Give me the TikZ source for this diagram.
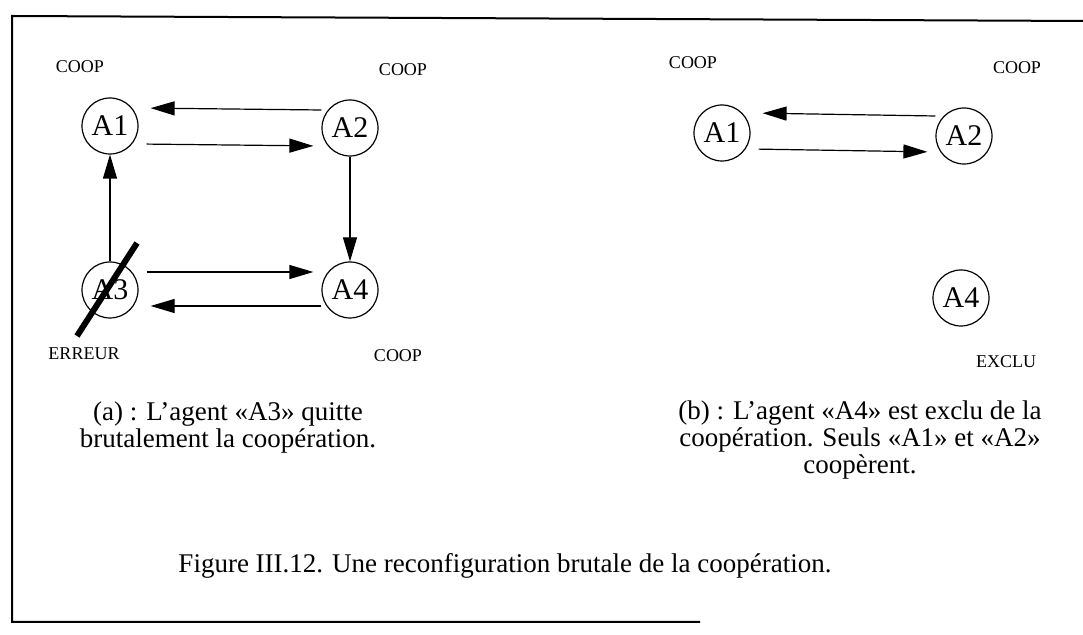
\documentclass[tikz,border=0pt]{standalone}
\usepackage{fontspec}
\setmainfont{Liberation Serif}
\usetikzlibrary{arrows.meta}

\begin{document}
\begin{tikzpicture}[x=0.5pt, y=-0.5pt,
  agent/.style={draw, circle, minimum size=28pt, inner sep=0pt, line width=0.6pt, font=\fontsize{15}{15}\selectfont},
  etat/.style={font=\fontsize{9}{9}\selectfont},
  legende/.style={align=center, font=\fontsize{13.5}{13.5}\selectfont},
  fl/.style={-{Triangle[length=12pt,width=7pt]}, line width=0.6pt},
  barre/.style={line width=3pt}]
  \useasboundingbox (0,0) rectangle (1083,635);

  % Cadre
  \draw[line width=1pt] (1083,21) -- (12,16) -- (12,622) -- (700,622);

  % (a) Agents
  \node[agent] (A1) at (110,126) {A1};
  \node[agent] (A2) at (350,128) {A2};
  \node[agent] (A3) at (110,290) {A3};
  \node[agent] (A4) at (350,290) {A4};

  % (a) Etats
  \node[etat] (c1) at (80,67) {COOP};
  \node[etat] (c2) at (403,70) {COOP};
  \node[etat] (err) at (84,354) {ERREUR};
  \node[etat] (c4) at (398,356) {COOP};

  % (a) Echanges
  \draw[fl, shorten >=6pt] ([yshift=9pt]A2.west) -- ([yshift=9pt]A1.east);
  \draw[fl, shorten <=4pt, shorten >=4pt] ([yshift=-9pt]A1.east) -- ([yshift=-9pt]A2.west);
  \draw[fl] (A2) -- (A4);
  \draw[fl] (A3) -- (A1);
  \draw[fl, shorten <=4pt, shorten >=4pt] ([yshift=9pt]A3.east) -- ([yshift=9pt]A4.west);
  \draw[fl, shorten >=6pt] ([yshift=-8pt]A4.west) -- ([yshift=-8pt]A3.east);

  % Panne de A3
  \draw[barre] ([shift={(-16.5pt,-23pt)}]A3.center) -- ([shift={(13.5pt,23.5pt)}]A3.center);

  % (b) Agents
  \node[agent] (B1) at (722,133) {A1};
  \node[agent] (B2) at (964,136) {A2};
  \node[agent] (B4) at (961,298) {A4};

  % (b) Etats
  \node[etat] (d1) at (693,63) {COOP};
  \node[etat] (d2) at (1017,68) {COOP};
  \node[etat] (d4) at (1006,362) {EXCLU};

  % (b) Echanges
  \draw[fl, shorten >=6pt] ([yshift=10pt]B2.west) -- ([yshift=10pt]B1.east);
  \draw[fl, shorten <=4pt, shorten >=4pt] ([yshift=-8pt]B1.east) -- ([yshift=-8pt]B2.west);

  % Legendes
  \node[legende] (la) at (228,428) {(a) : L’agent «A3» quitte\\brutalement la coopération.};
  \node[legende] (lb) at (860,440) {(b) : L’agent «A4» est exclu de la\\coopération. Seuls «A1» et «A2»\\coopèrent.};
  \node[legende] (fig) at (505,566) {Figure III.12. Une reconfiguration brutale de la coopération.};
\end{tikzpicture}
\end{document}
